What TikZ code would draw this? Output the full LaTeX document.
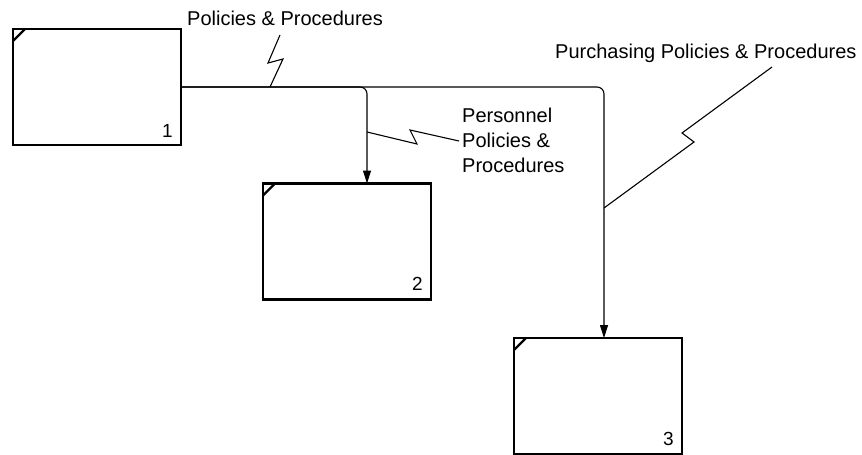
\documentclass[tikz,border=0pt]{standalone}
\usepackage{fontspec}
\setmainfont{Liberation Sans}
\usetikzlibrary{arrows.meta}
\begin{document}
\begin{tikzpicture}[x=1pt,y=-1pt,
  box/.style={draw, line width=2.4pt, minimum width=168pt, minimum height=116pt, inner sep=0pt, outer sep=0pt, fill=white},
  tick/.style={line width=2.4pt},
  conn/.style={line width=1.1pt, rounded corners=7pt},
  arr/.style={-{Triangle[length=13pt,width=8pt]}},
  lbl/.style={inner sep=0pt, font=\fontsize{20}{25}\selectfont},
  num/.style={inner sep=0pt, anchor=base east, font=\fontsize{19}{23}\selectfont},
  squig/.style={line width=1.1pt, line join=miter}]
\useasboundingbox (0,0) rectangle (862,455);
\fill[white] (0,0) rectangle (862,455);

% boxes
\node[box] (b1) at (97,87) {};
\node[box] (b2) at (347,241.5) {};
\node[box] (b3) at (598,396) {};

% corner ticks
\foreach \b in {b1,b2,b3}{
  \draw[tick] ([yshift=-12pt]\b.north west) -- ([xshift=12pt]\b.north west);
}

% numbers
\node[num] (n1) at ([xshift=-8pt,yshift=8pt]b1.south east) {1};
\node[num] (n2) at ([xshift=-8pt,yshift=9pt]b2.south east) {2};
\node[num] (n3) at ([xshift=-8pt,yshift=9pt]b3.south east) {3};

% connectors
\draw[conn,arr] (b1.east) -| ([xshift=6pt]b3.north);
\draw[conn,arr] (b1.east) -| ([xshift=20pt]b2.north);

% labels
\node[lbl, anchor=base west] (t1) at (187,25) {Policies \& Procedures};
\node[lbl, anchor=north west, align=left] (t2) at (462,108) {Personnel\\Policies \&\\Procedures};
\node[lbl, anchor=base west] (t3) at (555,58) {Purchasing Policies \& Procedures};

% squiggle callouts
\coordinate (s1a) at (270,87);
\coordinate (s1b) at (280,35);
\draw[squig] (s1a) -- (283,59) -- (268,63) -- (s1b);

\coordinate (s2a) at (367,132);
\coordinate (s2b) at (459,141);
\draw[squig] (s2a) -- (417,144) -- (410,130) -- (s2b);

\coordinate (s3a) at (604,208);
\coordinate (s3b) at (772,67);
\draw[squig] (s3a) -- (694,142) -- (682,133) -- (s3b);
\end{tikzpicture}
\end{document}
